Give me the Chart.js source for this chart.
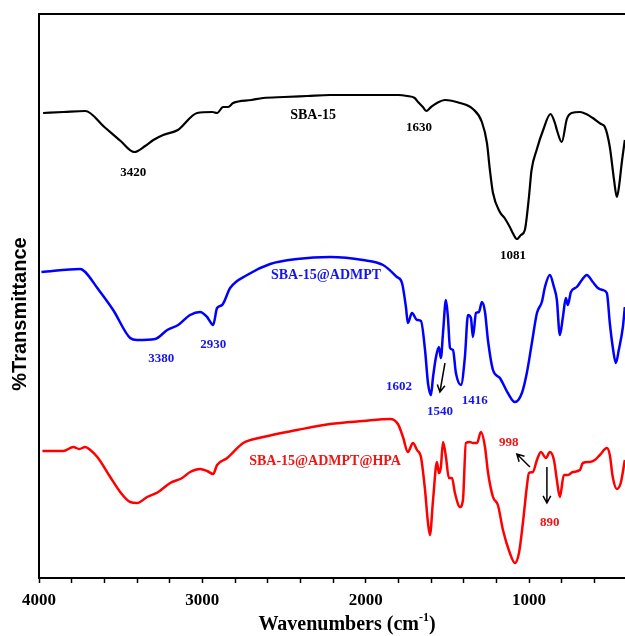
<!DOCTYPE html>
<html><head><meta charset="utf-8">
<script src="https://cdn.jsdelivr.net/npm/chart.js@4/dist/chart.umd.min.js"></script>
<style>html,body{margin:0;padding:0;background:#fff;}#wrap{width:625px;height:636px;}</style>
</head><body><div id="wrap"><canvas id="c" width="625" height="636"></canvas></div>
<script>
// ---- tick marks / labels (wavenumber, cm-1) ----
const xTickValues = [4000,3800,3600,3400,3200,3000,2800,2600,2400,2200,2000,1800,1600,1400,1200,1000,800,600];
const xMajorTicks = [4000,3000,2000,1000];
const xMajorLabels = ['4000','3000','2000','1000'];

// ---- SBA-15 (black) : wavenumber / transmittance (a.u.) ----
const sbaWn = [3975,3850,3717,3600,3500,3417,3350,3300,3240,3150,3032,2939,2910,2873,2842,2812,2700,2628,2500,2359,2218,2000,1800,1747,1700,1680,1650,1630,1600,1564,1515,1423,1344,1289,1258,1240,1221,1179,1150,1118,1100,1075,1050,1026,1001,985,954,914,869,842,830,800,769,740,689,650,610,560,536,506,480,463,450,433,414];
const sbaT  = [465,466,467,451,437,426,432,438,443,448,465,466,465,471,471,475,478,480,481,482,483,483,483,482,480,476,471,467,471,475,478,475,469,456,435,408,385,366,360,351,345,339,343,348,381,408,428,448,464,455,448,436,459,465,466,464,460,454,451,431,398,381,391,415,438];

// ---- SBA-15@ADMPT (blue) ----
const admWn = [3985,3747,3717,3643,3546,3442,3399,3289,3215,3148,3075,3014,2971,2934,2910,2879,2830,2726,2585,2420,2218,2017,1894,1809,1778,1754,1742,1717,1686,1662,1637,1619,1601,1588,1570,1552,1540,1527,1509,1497,1484,1466,1448,1417,1393,1374,1356,1344,1325,1307,1289,1270,1252,1221,1179,1130,1087,1044,1014,983,952,922,903,873,848,830,812,793,775,763,744,708,677,647,610,579,549,524,506,488,469,451,426,414];
const admT  = [306,309,306,290,268,240,238,239,248,253,263,266,261,253,270,273,290,303,314,319,321,318,313,301,295,271,255,265,258,257,228,195,183,201,221,231,220,245,278,261,230,228,205,193,221,263,260,241,265,266,276,266,238,208,200,185,176,185,205,235,265,276,291,303,291,278,243,261,280,273,286,291,298,303,296,290,288,285,255,231,215,228,251,271];

// ---- SBA-15@ADMPT@HPA (red) ----
const hpaWn = [3979,3851,3790,3754,3717,3686,3643,3564,3503,3442,3399,3338,3270,3197,3124,3075,3014,2971,2934,2910,2848,2750,2628,2420,2218,2017,1851,1803,1772,1742,1711,1686,1662,1637,1619,1607,1588,1564,1552,1540,1527,1509,1491,1472,1454,1423,1405,1387,1362,1344,1319,1295,1270,1252,1221,1191,1160,1118,1087,1062,1038,1014,1001,977,952,928,897,873,848,830,812,787,763,732,689,671,628,598,567,524,506,488,463,439,414];
const hpaT  = [127,127,131,129,131,128,121,101,86,76,75,81,86,95,100,106,109,107,104,113,120,135,141,148,154,157,159,154,141,126,135,128,121,88,55,43,78,116,105,111,136,121,100,100,85,71,78,135,136,135,135,146,131,106,81,73,48,25,15,25,55,91,105,106,118,126,120,126,118,98,81,103,103,106,108,115,116,118,123,130,123,101,89,95,118];

// ---- text annotations (placed in data coordinates) ----
const annotations = [
  {text:'SBA-15', wn:2322, t:463, color:'#000000', size:14},
  {text:'1630', wn:1674, t:450, color:'#000000', size:13},
  {text:'3420', wn:3423, t:405, color:'#000000', size:13},
  {text:'1081', wn:1099, t:322, color:'#000000', size:13},
  {text:'SBA-15@ADMPT', wn:2243, t:303, color:'#1414f0', size:14},
  {text:'3380', wn:3252, t:219, color:'#1414f0', size:13},
  {text:'2930', wn:2934, t:233, color:'#1414f0', size:13},
  {text:'1602', wn:1796, t:191, color:'#1414f0', size:13},
  {text:'1540', wn:1546, t:166, color:'#1414f0', size:13},
  {text:'1416', wn:1332, t:177, color:'#1414f0', size:13},
  {text:'SBA-15@ADMPT@HPA', wn:2249, t:117, color:'#f01414', size:14},
  {text:'998', wn:1124, t:135, color:'#f01414', size:13},
  {text:'890', wn:873, t:55, color:'#f01414', size:13}
];
const arrows = [
  {from:[1515,215], to:[1546,186]},
  {from:[995,111], to:[1075,124]},
  {from:[891,111], to:[891,75]}
];

function toXY(wn, t){ return wn.map((w,i)=>({x:w, y:t[i]})); }

const decor = {
  id:'decor',
  afterDraw(chart){
    const {ctx, chartArea:a, scales:{x, y}} = chart;
    ctx.save();
    // top frame line
    ctx.strokeStyle = '#000'; ctx.lineWidth = 2;
    ctx.beginPath(); ctx.moveTo(a.left - 1, a.top); ctx.lineTo(a.right, a.top); ctx.stroke();
    // annotations
    ctx.textAlign = 'center'; ctx.textBaseline = 'middle';
    annotations.forEach(an => {
      ctx.font = 'bold ' + an.size + 'px "Liberation Serif", "Times New Roman", serif';
      ctx.fillStyle = an.color;
      ctx.fillText(an.text, x.getPixelForValue(an.wn), y.getPixelForValue(an.t));
    });
    // arrows
    ctx.strokeStyle = '#000'; ctx.lineWidth = 1.5;
    arrows.forEach(ar => {
      const x0 = x.getPixelForValue(ar.from[0]), y0 = y.getPixelForValue(ar.from[1]);
      const x1 = x.getPixelForValue(ar.to[0]), y1 = y.getPixelForValue(ar.to[1]);
      const ang = Math.atan2(y1 - y0, x1 - x0), L = 8;
      ctx.beginPath(); ctx.moveTo(x0, y0); ctx.lineTo(x1, y1);
      ctx.moveTo(x1 - L*Math.cos(ang - 0.5), y1 - L*Math.sin(ang - 0.5));
      ctx.lineTo(x1, y1);
      ctx.lineTo(x1 - L*Math.cos(ang + 0.5), y1 - L*Math.sin(ang + 0.5));
      ctx.stroke();
    });
    // y title
    ctx.fillStyle = '#000';
    ctx.save();
    ctx.translate(20, 314); ctx.rotate(-Math.PI/2);
    ctx.font = 'bold 20px "Liberation Sans", Arial, sans-serif';
    ctx.fillText('%Transmittance', 0, 0);
    ctx.restore();
    // x title with superscript
    const main = 'bold 20px "Liberation Serif", "Times New Roman", serif';
    const sup = 'bold 12px "Liberation Serif", "Times New Roman", serif';
    const p1 = 'Wavenumbers (cm', p2 = '-1', p3 = ')';
    ctx.font = main; const w1 = ctx.measureText(p1).width, w3 = ctx.measureText(p3).width;
    ctx.font = sup; const w2 = ctx.measureText(p2).width;
    const tot = w1 + w2 + w3; let cx = 347 - tot/2; const cy = 625;
    ctx.textAlign = 'left';
    ctx.font = main; ctx.fillText(p1, cx, cy); cx += w1;
    ctx.font = sup; ctx.fillText(p2, cx, cy - 7); cx += w2;
    ctx.font = main; ctx.fillText(p3, cx, cy);
    ctx.restore();
  }
};

new Chart(document.getElementById('c'), {
  type: 'line',
  data: {
    datasets: [
      {label:'SBA-15', data: toXY(sbaWn, sbaT), borderColor:'#000000', borderWidth:2.2},
      {label:'SBA-15@ADMPT', data: toXY(admWn, admT), borderColor:'#0000ff', borderWidth:2.5},
      {label:'SBA-15@ADMPT@HPA', data: toXY(hpaWn, hpaT), borderColor:'#ff0000', borderWidth:2.5}
    ]
  },
  options: {
    responsive: false,
    animation: false,
    events: [],
    layout: {padding: {top: 14, right: 0, left: 0, bottom: 0}},
    elements: {point: {radius: 0}, line: {cubicInterpolationMode: 'monotone', fill: false}},
    plugins: {legend: {display: false}, tooltip: {enabled: false}, title: {display: false}},
    scales: {
      x: {
        type: 'linear', reverse: true, min: 413, max: 4000,
        afterBuildTicks: s => { s.ticks = xTickValues.map(v => ({value: v})); },
        afterFit: s => { s.height = 58; },
        ticks: {
          autoSkip: false, maxRotation: 0, padding: 7, color: '#000',
          font: {family: '"Liberation Serif", "Times New Roman", serif', size: 17, weight: 'bold'},
          callback: v => { const i = xMajorTicks.indexOf(v); return i >= 0 ? xMajorLabels[i] : ''; }
        },
        grid: {drawOnChartArea: false, drawTicks: true, tickLength: 5, color: '#000', tickWidth: 1.5},
        border: {display: true, color: '#000', width: 2}
      },
      y: {
        min: 0, max: 564,
        afterFit: s => { s.width = 39; },
        ticks: {display: false},
        grid: {display: false},
        border: {display: true, color: '#000', width: 2}
      }
    }
  },
  plugins: [decor]
});
</script>
</body></html>
